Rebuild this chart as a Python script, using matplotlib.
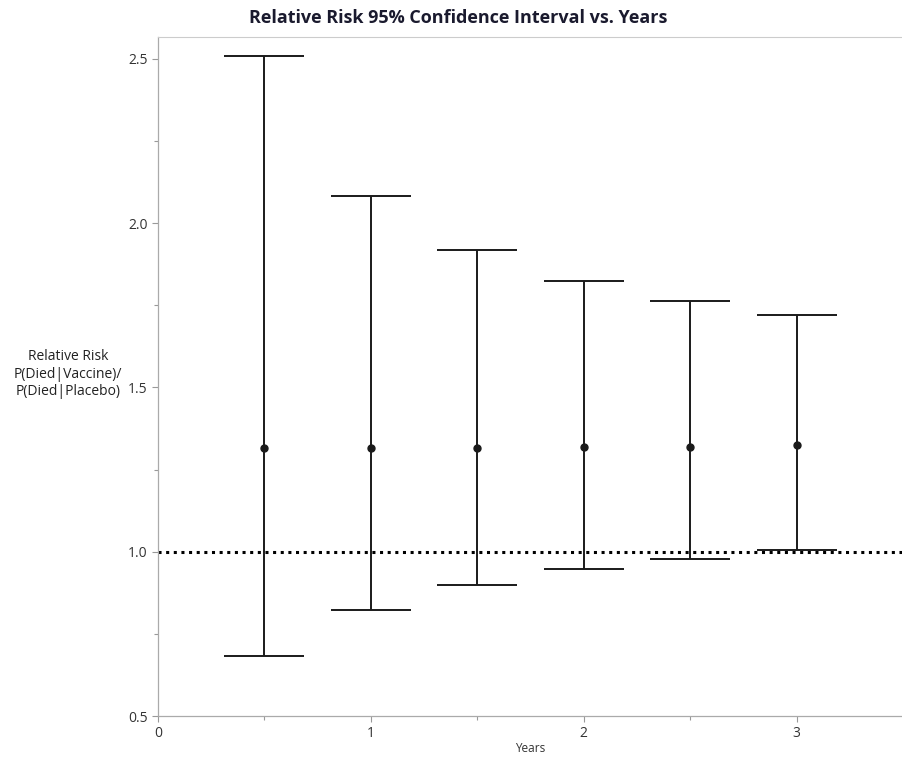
import matplotlib.pyplot as plt
import numpy as np

years = [0.5, 1.0, 1.5, 2.0, 2.5, 3.0]
rr_point = [1.317, 1.317, 1.317, 1.318, 1.320, 1.324]
rr_lower = [0.682, 0.824, 0.899, 0.946, 0.979, 1.006]
rr_upper = [2.51, 2.084, 1.918, 1.824, 1.764, 1.721]

x_ticks = [0, 1, 2, 3]
y_ticks = [0.5, 1.0, 1.5, 2.0, 2.5]

plt.rcParams['font.family'] = ['Open Sans', 'DejaVu Sans']

fig = plt.figure(figsize=(9.03, 7.58), dpi=100)
ax = fig.add_axes([0.175, 0.0554, 0.825, 0.8956])

pt = np.array(rr_point)
yerr = [pt - np.array(rr_lower), np.array(rr_upper) - pt]
ax.errorbar(years, rr_point, yerr=yerr, fmt='o', color='#1a1a1a', ms=5,
            elinewidth=1.4, capsize=29, capthick=1.4, zorder=3)

ax.axhline(1.0, color='black', ls=(0, (1, 1.5)), lw=2.2, zorder=2)

ax.set_xlim(0, 3.465)
ax.set_ylim(0.5, 2.566)
ax.set_xticks(x_ticks)
ax.set_yticks(y_ticks)
ax.set_yticklabels(['0.5', '1.0', '1.5', '2.0', '2.5'])
ax.set_xticks([0.5, 1.5, 2.5, 3.5], minor=True)
ax.set_yticks([0.75, 1.25, 1.75, 2.25], minor=True)
ax.tick_params(which='both', colors='#999999', labelcolor='#333333', labelsize=10,
               length=4, width=0.8)
ax.tick_params(which='minor', length=3)

for side in ['left', 'bottom']:
    ax.spines[side].set_color('#aaaaaa')
    ax.spines[side].set_linewidth(0.9)
ax.spines['top'].set_color('#cccccc')
ax.spines['top'].set_linestyle((0, (2, 1)))
ax.spines['right'].set_visible(False)

fig.text(68 / 903, 1 - 374 / 758, 'Relative Risk\nP(Died|Vaccine)/\nP(Died|Placebo)',
         ha='center', va='center', fontsize=10, color='#222222', linespacing=1.2)
fig.text(530 / 903, 1 - 749 / 758, 'Years', ha='center', va='center',
         fontsize=8.5, color='#333333')
fig.text(458 / 903, 1 - 18 / 758, 'Relative Risk 95% Confidence Interval vs. Years',
         ha='center', va='center', fontsize=13, fontweight='bold', color='#1a1a2e')

fig.savefig('out.png', dpi=100)
